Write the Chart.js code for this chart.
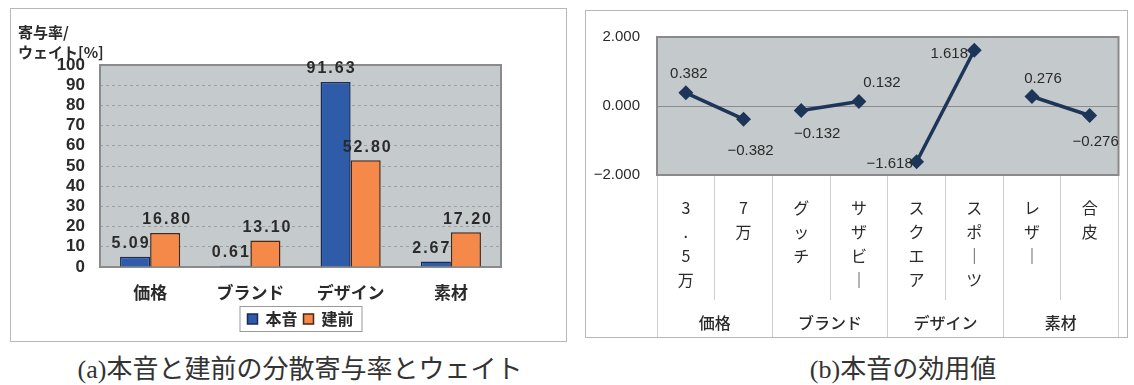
<!DOCTYPE html>
<html>
<head>
<meta charset="utf-8">
<script src="https://cdn.jsdelivr.net/npm/chart.js@4.4.0/dist/chart.umd.min.js"></script>
<style>
  body { margin: 0; background: #fff; width: 1134px; height: 385px; position: relative; overflow: hidden; }
  .frame { position: absolute; border: 1px solid #b8b8b8; box-sizing: border-box; }
  .cap { position: absolute; text-align: center; font-family: 'Liberation Serif', 'Noto Sans CJK JP', serif; font-size: 26px; color: #333; }
</style>
</head>
<body>
<div class="frame" style="left:10px; top:8px; width:557px; height:334px;">
  <canvas id="bars" width="555" height="332"></canvas>
</div>
<div class="frame" style="left:585px; top:10px; width:543px; height:328px;">
  <canvas id="utility" width="541" height="326"></canvas>
</div>
<div class="cap" style="left:0px; top:348px; width:600px;">(a)本音と建前の分散寄与率とウェイト</div>
<div class="cap" style="left:703px; top:348px; width:400px;">(b)本音の効用値</div>

<script>
// (a) 分散寄与率とウェイト
var barCategories = ['価格', 'ブランド', 'デザイン', '素材'];
var honneValues = [5.09, 0.61, 91.63, 2.67];
var tatemaeValues = [16.80, 13.10, 52.80, 17.20];
var seriesNames = ['本音', '建前'];

// (b) 本音の効用値
var levelLabels = ['3.5万', '7万', 'グッチ', 'サザビー', 'スクエア', 'スポーツ', 'レザー', '合皮'];
var levelGroupIndex = [0, 0, 1, 1, 2, 2, 3, 3];
var levelGroups = ['価格', 'ブランド', 'デザイン', '素材'];
var utilityValues = [0.382, -0.382, -0.132, 0.132, -1.618, 1.618, 0.276, -0.276];

function toVertical(s) {
  return s.replace(/ー/g, '｜').split('');
}

function fmt3(v) {
  return v.toFixed(3).replace('-', '−');
}

var plotFrame = {
  id: 'plotFrame',
  beforeDraw: function(chart, args, opts) {
    var a = chart.chartArea;
    var ctx = chart.ctx;
    ctx.save();
    ctx.fillStyle = opts.bg;
    ctx.fillRect(a.left, a.top, a.right - a.left, a.bottom - a.top);
    ctx.restore();
  },
  beforeDatasetsDraw: function(chart, args, opts) {
    var a = chart.chartArea;
    var ctx = chart.ctx;
    ctx.save();
    ctx.strokeStyle = opts.border;
    ctx.lineWidth = 2;
    ctx.strokeRect(a.left, a.top, a.right - a.left, a.bottom - a.top);
    ctx.restore();
  }
};

var barLabels = {
  id: 'barLabels',
  afterDatasetsDraw: function(chart) {
    var ctx = chart.ctx;
    ctx.save();
    ctx.font = 'bold 16px "Liberation Sans", Arial, sans-serif';
    ctx.letterSpacing = '2px';
    ctx.fillStyle = '#2a2a2a';
    ctx.textAlign = 'center';
    ctx.textBaseline = 'bottom';
    chart.data.datasets.forEach(function(ds, d) {
      chart.getDatasetMeta(d).data.forEach(function(bar, i) {
        var shift = d === 0 ? -4 : 2;
        ctx.fillText(ds.data[i].toFixed(2), bar.x + shift, bar.y - 5);
      });
    });
    ctx.restore();
  }
};

var axisTitle = {
  id: 'axisTitle',
  afterDraw: function(chart) {
    var ctx = chart.ctx;
    var a = chart.chartArea;
    ctx.save();
    ctx.font = 'bold 15px "Noto Sans CJK JP", sans-serif';
    ctx.fillStyle = '#2a2a2a';
    ctx.textAlign = 'left';
    ctx.textBaseline = 'middle';
    ctx.fillText('寄与率/', a.left - 82, a.top - 33);
    ctx.fillText('ウェイト[%]', a.left - 82, a.top - 13);
    ctx.restore();
  }
};

var legendBox = {
  id: 'legendBox',
  afterDraw: function(chart) {
    var boxes = chart.legend.legendHitBoxes;
    if (!boxes || !boxes.length) return;
    var first = boxes[0];
    var last = boxes[boxes.length - 1];
    var ctx = chart.ctx;
    ctx.save();
    ctx.strokeStyle = '#999';
    ctx.lineWidth = 1;
    ctx.strokeRect(first.left - 7.5, first.top - 4.5, last.left + last.width - first.left + 16, first.height + 9);
    ctx.restore();
  }
};

new Chart(document.getElementById('bars'), {
  type: 'bar',
  data: {
    labels: barCategories,
    datasets: [{
      label: seriesNames[0],
      data: honneValues,
      backgroundColor: '#2f5ca8',
      borderColor: '#1a2a55',
      borderWidth: 1.5
    }, {
      label: seriesNames[1],
      data: tatemaeValues,
      backgroundColor: '#f4894a',
      borderColor: '#4a2612',
      borderWidth: 1.5
    }]
  },
  options: {
    responsive: false,
    animation: false,
    categoryPercentage: 0.6,
    barPercentage: 1.0,
    layout: { padding: { top: 56, right: 65, left: 0, bottom: 4 } },
    plugins: {
      legend: {
        position: 'bottom',
        fullSize: false,
        labels: {
          boxWidth: 10,
          boxHeight: 10,
          padding: 6,
          color: '#2a2a2a',
          font: { size: 16, weight: 'bold', family: '"Noto Sans CJK JP", sans-serif' }
        }
      },
      tooltip: { enabled: false },
      plotFrame: { bg: '#c5cbcc', border: '#8a8a8a' }
    },
    scales: {
      x: {
        grid: { display: false, drawTicks: false },
        border: { display: false },
        ticks: {
          padding: 15,
          color: '#2a2a2a',
          font: { size: 17, weight: 'bold', family: '"Noto Sans CJK JP", sans-serif' }
        },
        afterFit: function(s) { s.height = 38; }
      },
      y: {
        min: 0,
        max: 100,
        border: { display: false, dash: [3, 3] },
        grid: {
          drawTicks: false,
          color: function(c) {
            return (c.tick.value === 0 || c.tick.value === 100) ? 'rgba(0,0,0,0)' : 'rgba(140,150,155,0.8)';
          }
        },
        ticks: {
          stepSize: 10,
          autoSkip: false,
          padding: 15,
          color: '#2a2a2a',
          font: { size: 17, weight: 'bold', family: '"Liberation Sans", Arial, sans-serif' }
        },
        afterFit: function(s) { s.width = 89; }
      }
    }
  },
  plugins: [plotFrame, barLabels, axisTitle, legendBox]
});

var lineLabelShift = [[3, -19], [7, 32], [16, 23], [23, -19], [-27, 2], [-25, 4], [11, -18], [6, 26]];

var pointLabels = {
  id: 'pointLabels',
  afterDatasetsDraw: function(chart) {
    var ctx = chart.ctx;
    var ds = chart.data.datasets[0];
    ctx.save();
    ctx.font = '15px "Liberation Sans", Arial, sans-serif';
    ctx.fillStyle = '#2a2a2a';
    ctx.textAlign = 'center';
    ctx.textBaseline = 'middle';
    chart.getDatasetMeta(0).data.forEach(function(pt, i) {
      var sh = lineLabelShift[i];
      ctx.fillText(fmt3(ds.data[i]), pt.x + sh[0], pt.y + sh[1]);
    });
    ctx.restore();
  }
};

var lineColor = '#1d3558';

new Chart(document.getElementById('utility'), {
  type: 'line',
  data: {
    labels: levelLabels.map(toVertical),
    datasets: [{
      data: utilityValues,
      borderColor: lineColor,
      backgroundColor: lineColor,
      borderWidth: 3.5,
      pointStyle: 'rectRot',
      pointRadius: 5,
      pointBackgroundColor: lineColor,
      pointBorderColor: lineColor,
      tension: 0,
      segment: {
        borderColor: function(c) {
          return levelGroupIndex[c.p0DataIndex] === levelGroupIndex[c.p1DataIndex] ? lineColor : 'rgba(0,0,0,0)';
        }
      }
    }]
  },
  options: {
    responsive: false,
    animation: false,
    layout: { padding: { top: 14, right: 2, left: 0, bottom: 0 } },
    plugins: {
      legend: { display: false },
      tooltip: { enabled: false },
      plotFrame: { bg: '#c4cacb', border: '#8a8a8a' }
    },
    scales: {
      x: {
        offset: true,
        border: { display: false },
        grid: { offset: true, drawOnChartArea: false, drawTicks: true, tickLength: 125, color: '#cfcfcf' },
        ticks: {
          autoSkip: false,
          maxRotation: 0,
          padding: -104,
          color: '#2a2a2a',
          font: { size: 16, lineHeight: 1.5, family: '"Noto Sans CJK JP", sans-serif' }
        },
        afterFit: function(s) { s.height = 125; }
      },
      x2: {
        type: 'category',
        position: 'bottom',
        labels: levelGroups,
        offset: true,
        border: { display: false },
        grid: { offset: true, drawOnChartArea: false, drawTicks: true, tickLength: 37, color: '#cfcfcf' },
        ticks: {
          autoSkip: false,
          maxRotation: 0,
          padding: -24,
          color: '#2a2a2a',
          font: { size: 16, weight: '500', family: '"Noto Sans CJK JP", sans-serif' }
        },
        afterFit: function(s) { s.height = 37; }
      },
      y: {
        min: -2,
        max: 2,
        border: { display: false },
        grid: {
          drawTicks: false,
          color: function(c) { return c.tick.value === 0 ? '#8c8c8c' : 'rgba(0,0,0,0)'; }
        },
        ticks: {
          stepSize: 2,
          padding: 17,
          color: '#2a2a2a',
          font: { size: 15, family: '"Liberation Sans", Arial, sans-serif' },
          callback: function(v) { return fmt3(v); }
        },
        afterFit: function(s) { s.width = 71; }
      }
    }
  },
  plugins: [plotFrame, pointLabels]
});
</script>
</body>
</html>
